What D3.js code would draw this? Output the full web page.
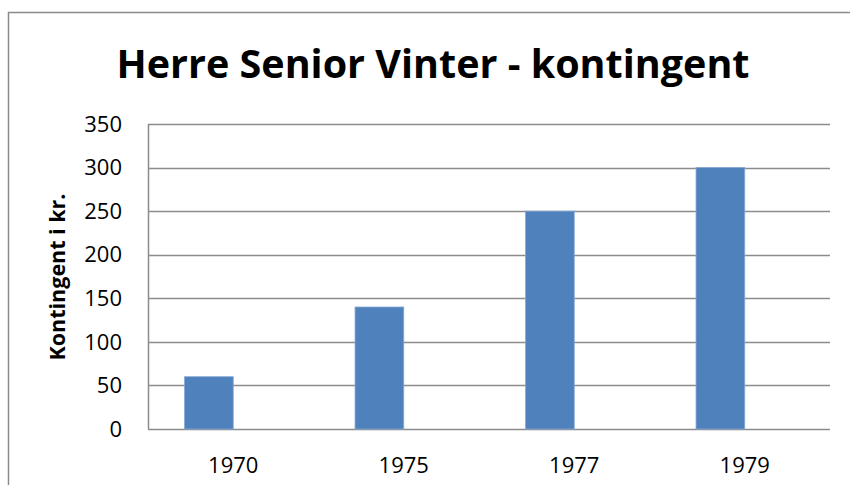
<!DOCTYPE html>
<html>
<head>
<meta charset="utf-8">
<script src="https://cdn.jsdelivr.net/npm/d3@7"></script>
<style>
  body { margin: 0; background: #fff; }
  svg text { font-family: 'Open Sans', 'Liberation Sans', sans-serif; fill: #000; }
</style>
</head>
<body>
<svg id="chart" width="850" height="485"></svg>
<script>
(function () {

const categories = ['1970', '1975', '1977', '1979'];
const values = [60, 140, 250, 300];
const yTicks = [0, 50, 100, 150, 200, 250, 300, 350];
const titleText = 'Herre Senior Vinter - kontingent';
const yTitle = 'Kontingent i kr.';

const svg = d3.select('#chart'),
    margin = {top: 124, right: 20, bottom: 56, left: 148},
    width = +svg.attr('width') - margin.left - margin.right,
    height = +svg.attr('height') - margin.top - margin.bottom;

// outer frame, runs off the right and bottom edges
svg.append('rect')
    .attr('x', 8.5)
    .attr('y', 12.5)
    .attr('width', 900)
    .attr('height', 600)
    .attr('fill', 'none')
    .attr('stroke', '#8a8a8a')
    .attr('stroke-width', 1.5);

svg.append('text')
    .attr('x', 433)
    .attr('y', 78)
    .attr('text-anchor', 'middle')
    .attr('textLength', 633)
    .attr('lengthAdjust', 'spacingAndGlyphs')
    .style('font-weight', 'bold')
    .style('font-size', '40px')
    .text(titleText);

const x = d3.scaleBand()
    .domain(categories)
    .range([0, width]);

const y = d3.scaleLinear()
    .domain([0, 350])
    .range([height, 0]);

const g = svg.append('g')
    .attr('transform', 'translate(' + margin.left + ',' + margin.top + ')');

// gridlines
g.append('g')
    .attr('class', 'grid')
    .selectAll('line')
    .data(yTicks)
    .enter().append('line')
      .attr('x1', 0)
      .attr('x2', width)
      .attr('y1', function(d) { return Math.round(y(d)) + 0.5; })
      .attr('y2', function(d) { return Math.round(y(d)) + 0.5; })
      .attr('stroke', '#8c8c8c')
      .attr('stroke-width', 1.5);

// y axis line
g.append('line')
    .attr('x1', 0.5).attr('x2', 0.5)
    .attr('y1', 0).attr('y2', height)
    .attr('stroke', '#8c8c8c')
    .attr('stroke-width', 1.5);

// two-series cluster in Excel style, second series empty: bar sits at left half
const barW = x.bandwidth() / 3.5;

g.selectAll('.bar')
    .data(values)
    .enter().append('rect')
      .attr('class', 'bar')
      .attr('x', function(d, i) { return x(categories[i]) + 0.75 * barW; })
      .attr('y', function(d) { return y(d); })
      .attr('width', barW)
      .attr('height', function(d) { return height - y(d); })
      .attr('fill', '#4f81bd')
      .attr('stroke', '#86a9d6')
      .attr('stroke-width', 0.8);

// y tick labels
g.append('g').selectAll('text')
    .data(yTicks)
    .enter().append('text')
      .attr('x', -26)
      .attr('y', function(d) { return y(d); })
      .attr('dy', '0.35em')
      .attr('text-anchor', 'end')
      .style('font-size', '22px')
      .text(function(d) { return d; });

// x labels
g.append('g').selectAll('text')
    .data(categories)
    .enter().append('text')
      .attr('x', function(d) { return x(d) + x.bandwidth() / 2; })
      .attr('y', height + 44)
      .attr('text-anchor', 'middle')
      .style('font-size', '22px')
      .text(function(d) { return d; });

// y axis title
svg.append('text')
    .attr('transform', 'translate(65,' + 277 + ') rotate(-90)')
    .attr('text-anchor', 'middle')
    .attr('textLength', 167)
    .attr('lengthAdjust', 'spacingAndGlyphs')
    .style('font-weight', 'bold')
    .style('font-size', '21px')
    .text(yTitle);

})();
</script>
</body>
</html>
